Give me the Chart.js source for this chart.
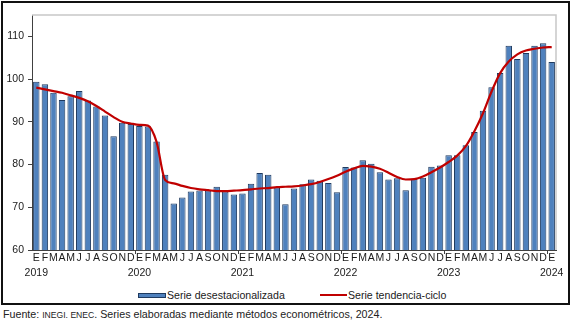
<!DOCTYPE html>
<html lang="es">
<head>
<meta charset="utf-8">
<title>Serie desestacionalizada y tendencia-ciclo</title>
<script src="https://cdn.jsdelivr.net/npm/chart.js@4/dist/chart.umd.min.js"></script>
<style>
  html, body { margin: 0; padding: 0; background: #fff; }
  body { width: 573px; height: 321px; position: relative; overflow: hidden;
         font-family: "Liberation Sans", Arial, sans-serif; color: #1a1a1a; }
  .frame { position: absolute; left: 1px; top: 1px; width: 569px; height: 304px;
           border: 2px solid #111; box-sizing: border-box; }
  #chartWrap { position: absolute; left: 0; top: 0; width: 573px; height: 282px; }
  .legend-item { position: absolute; top: 289px; height: 12px; line-height: 12px;
                 font-size: 10.6px; display: flex; align-items: center; white-space: nowrap; }
  .swatch-bar { width: 28px; height: 5px; background: #4F81BD; border: 1px solid #1F3A5F;
                box-sizing: border-box; margin-right: 1px; }
  .swatch-line { width: 27px; height: 2px; background: #C00000; margin-right: 1px; }
  .source { position: absolute; left: 3px; top: 308px; font-size: 10.7px; line-height: 12px;
            color: #222; white-space: nowrap; }
  .source small { font-size: 8.6px; }
</style>
</head>
<body>
<div class="frame"></div>
<div id="chartWrap"><canvas id="enecChart"></canvas></div>
<div class="legend-item" style="left:138px"><span class="swatch-bar"></span>Serie desestacionalizada</div>
<div class="legend-item" style="left:320px"><span class="swatch-line"></span>Serie tendencia-ciclo</div>
<div class="source">Fuente: <small>INEGI. ENEC</small>. Series elaboradas mediante métodos econométricos, 2024.</div>

<script>
// meses enero 2019 - enero 2024
const MONTHS = ['E', 'F', 'M', 'A', 'M', 'J', 'J', 'A', 'S', 'O', 'N', 'D'];
const YEARS = ['2019', '2020', '2021', '2022', '2023', '2024'];

const SERIE_DESEST = [
  99.4, 98.8, 96.8, 95.1, 96.0, 97.2, 95.0, 93.6, 91.5, 86.6, 89.8, 89.5,
  89.0, 88.9, 85.4, 77.6, 70.9, 72.3, 73.7, 73.9, 73.9, 74.8, 73.7, 73.0,
  73.2, 75.5, 78.0, 77.6, 74.7, 70.7, 74.4, 75.4, 76.5, 76.2, 75.7, 73.5,
  79.4, 79.3, 81.0, 80.2, 78.2, 76.5, 76.8, 74.0, 76.7, 76.9, 79.5, 79.8,
  82.2, 82.2, 84.5, 87.6, 92.6, 98.1, 101.4, 107.8, 104.7, 106.1, 107.8, 108.4,
  104.0
];

const SERIE_TENDENCIA = [
  98.0, 97.6, 97.2, 96.8, 96.2, 95.6, 94.8, 93.7, 92.4, 91.1, 90.0, 89.6,
  89.3, 89.1, 85.3, 76.4, 75.6, 75.0, 74.5, 74.2, 74.0, 73.8, 73.8, 73.9,
  74.0, 74.2, 74.4, 74.5, 74.7, 74.8, 74.9, 75.1, 75.4, 75.9, 76.6, 77.4,
  78.3, 79.1, 79.7, 79.5, 79.0, 78.1, 77.1, 76.5, 76.6, 77.2, 78.2, 79.3,
  80.6, 82.1, 84.3, 87.8, 92.0, 97.1, 101.4, 104.1, 105.8, 106.7, 107.1, 107.4,
  107.5
];

const Y_MIN = 60;
const Y_MAX = 115;
const Y_STEP = 10;

document.addEventListener('DOMContentLoaded', () => {
  renderChart();
});

function buildLabels() {
  const labels = [];
  for (let i = 0; i < SERIE_DESEST.length; i++) {
    const m = MONTHS[i % 12];
    labels.push(i % 12 === 0 ? [m, YEARS[i / 12]] : m);
  }
  return labels;
}

// marco gris del area de trazado (arriba y derecha)
const plotFrame = {
  id: 'plotFrame',
  beforeDatasetsDraw(chart) {
    const { ctx, chartArea: a } = chart;
    ctx.save();
    ctx.strokeStyle = '#c8c8c8';
    ctx.lineWidth = 1.5;
    ctx.beginPath();
    ctx.moveTo(a.left, a.top);
    ctx.lineTo(a.right, a.top);
    ctx.lineTo(a.right, a.bottom);
    ctx.stroke();
    ctx.restore();
  }
};

function renderChart() {
  const ctx = document.getElementById('enecChart');
  if (!ctx) return;

  Chart.defaults.font.family = '"Liberation Sans", Arial, sans-serif';
  Chart.defaults.color = '#1a1a1a';

  new Chart(ctx, {
    type: 'bar',
    data: {
      labels: buildLabels(),
      datasets: [
        {
          type: 'line',
          label: 'Serie tendencia-ciclo',
          data: SERIE_TENDENCIA,
          borderColor: '#C00000',
          borderWidth: 2.2,
          pointRadius: 0,
          cubicInterpolationMode: 'monotone',
          order: 0
        },
        {
          label: 'Serie desestacionalizada',
          data: SERIE_DESEST,
          backgroundColor: '#4F81BD',
          borderColor: '#1F3A5F',
          borderWidth: 1,
          barPercentage: 0.75,
          categoryPercentage: 1,
          order: 1
        }
      ]
    },
    options: {
      responsive: true,
      maintainAspectRatio: false,
      animation: false,
      layout: { padding: { top: 15, right: 17, bottom: 2, left: 0 } },
      plugins: {
        legend: { display: false },
        tooltip: { enabled: false }
      },
      scales: {
        x: {
          offset: true,
          afterFit: (scale) => { scale.height = 30; },
          border: { display: true, color: '#404040', width: 1 },
          grid: {
            offset: true,
            drawOnChartArea: false,
            drawTicks: true,
            tickLength: 4,
            color: (c) => (c.index > 0 && c.index % 12 === 0 ? '#404040' : 'rgba(0,0,0,0)')
          },
          ticks: {
            autoSkip: false,
            maxRotation: 0,
            minRotation: 0,
            padding: -4,
            color: '#1a1a1a',
            font: { size: 10.5, lineHeight: 1.45 }
          }
        },
        y: {
          min: Y_MIN,
          max: Y_MAX,
          afterFit: (scale) => { scale.width = 32; },
          border: { display: true, color: '#404040', width: 1 },
          grid: {
            drawOnChartArea: false,
            drawTicks: true,
            tickLength: 4,
            color: '#404040'
          },
          ticks: {
            stepSize: Y_STEP,
            includeBounds: false,
            padding: 4,
            color: '#1a1a1a',
            font: { size: 10.5 }
          }
        }
      }
    },
    plugins: [plotFrame]
  });
}
</script>
</body>
</html>
